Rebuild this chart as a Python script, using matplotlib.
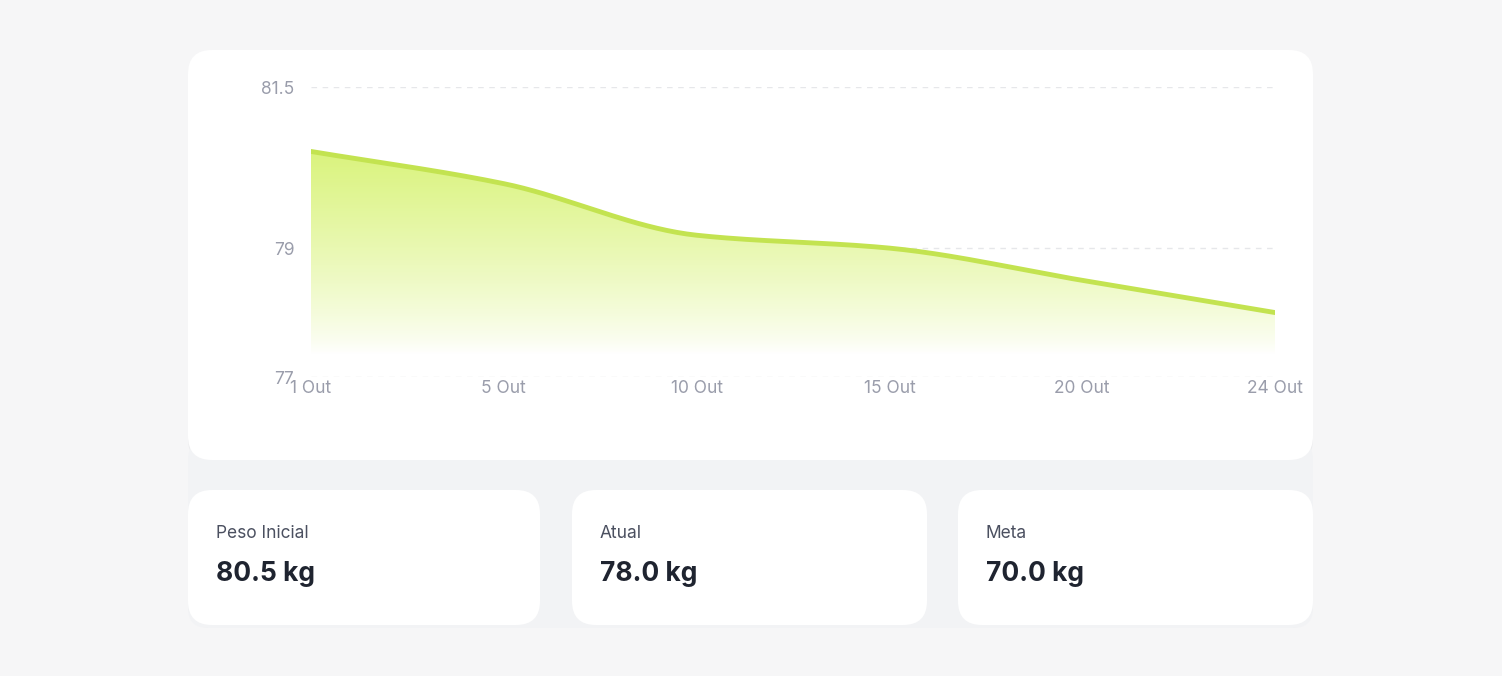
import numpy as np
import matplotlib
matplotlib.use('Agg')
import matplotlib.pyplot as plt
from matplotlib.patches import FancyBboxPatch

plt.rcParams['font.family'] = ['Inter', 'DejaVu Sans']

# data
days = ['1 Out', '5 Out', '10 Out', '15 Out', '20 Out', '24 Out']
weight = [80.5, 80.0, 79.2, 79.0, 78.5, 78.0]
yticks = [77, 79, 81.5]
stat_labels = ['Peso Inicial', 'Atual', 'Meta']
stat_values = ['80.5 kg', '78.0 kg', '70.0 kg']

W, H, DPI = 1502, 676, 100
fig = plt.figure(figsize=(W / DPI, H / DPI), dpi=DPI)
fig.patch.set_facecolor('#f6f6f7')

def card(x0, y0, x1, y1, color='white', r=24, shadow=True):
    # pixel coords, y measured from top
    def box(dx, dy, c, z):
        p = FancyBboxPatch(((x0 + r + dx) / DPI, (H - y1 + r - dy) / DPI),
                           (x1 - x0 - 2 * r) / DPI, (y1 - y0 - 2 * r) / DPI,
                           boxstyle='round,pad=%f' % (r / DPI),
                           transform=fig.dpi_scale_trans, fc=c, ec='none', zorder=z)
        fig.patches.append(p)
    if shadow:
        box(0, 3, '#ececee', 0)
    box(0, 0, color, 1)

card(188, 440, 1313, 628, color='#f2f3f5', r=20, shadow=False)
card(188, 50, 1313, 460)
xs = [(188, 540), (572, 927), (958, 1313)]
for (a, b), lab, val in zip(xs, stat_labels, stat_values):
    card(a, 490, b, 625)
    fig.text((a + 28) / W, 1 - 534 / H, lab, fontsize=12.5, color='#4b5060', va='center')
    fig.text((a + 28) / W, 1 - 574 / H, val, fontsize=19, color='#1f2430',
             fontweight='bold', va='center')

ax = fig.add_axes([311 / W, 1 - 377 / H, (1275 - 311) / W, (377 - 87) / H])
ax.set_facecolor('none')
ax.set_zorder(3)

# monotone cubic curve through the points
x = np.arange(len(weight), dtype=float)
y = np.array(weight)
d = np.diff(y)
m = np.zeros_like(y)
m[0], m[-1] = d[0], d[-1]
for i in range(1, len(y) - 1):
    m[i] = 0 if d[i - 1] * d[i] <= 0 else 2 / (1 / d[i - 1] + 1 / d[i])
xf, yf = [], []
for i in range(len(y) - 1):
    t = np.linspace(0, 1, 40)
    h00 = 2 * t**3 - 3 * t**2 + 1; h10 = t**3 - 2 * t**2 + t
    h01 = -2 * t**3 + 3 * t**2; h11 = t**3 - t**2
    xf.extend(x[i] + t); yf.extend(h00 * y[i] + h10 * m[i] + h01 * y[i + 1] + h11 * m[i + 1])
xf, yf = np.array(xf), np.array(yf)

base = 77.35
ax.set_xlim(0, len(days) - 1)
ax.set_ylim(77, 81.5)
ylo, yhi = base, 81.5
grad = np.linspace(1, 0, 256).reshape(-1, 1)
cmap = matplotlib.colors.LinearSegmentedColormap.from_list('g', ['#ffffff', '#d9f37a'])
img = ax.imshow(grad[::-1] ** 0.8, cmap=cmap, aspect='auto', extent=[0, len(days) - 1, ylo, 80.6],
                origin='lower', zorder=1, vmin=0, vmax=1)
poly = ax.fill_between(xf, base, yf, color='none')
img.set_clip_path(poly.get_paths()[0], ax.transData)
ax.plot(xf, yf, color='#c3e350', lw=3.5, zorder=2, solid_capstyle='round')

for v in yticks:
    ax.axhline(v, color='#e6e7ea', lw=1, ls=(0, (4, 4)), zorder=0)
ax.set_yticks(yticks)
ax.set_yticklabels(['77', '79', '81.5'])
ax.set_xticks(x)
ax.set_xticklabels(days)
ax.tick_params(length=0, labelsize=12.5, labelcolor='#9a9dab')
ax.tick_params(axis='y', pad=12)
ax.tick_params(axis='x', pad=2)
for s in ax.spines.values():
    s.set_visible(False)

fig.savefig('out.png', dpi=DPI)
